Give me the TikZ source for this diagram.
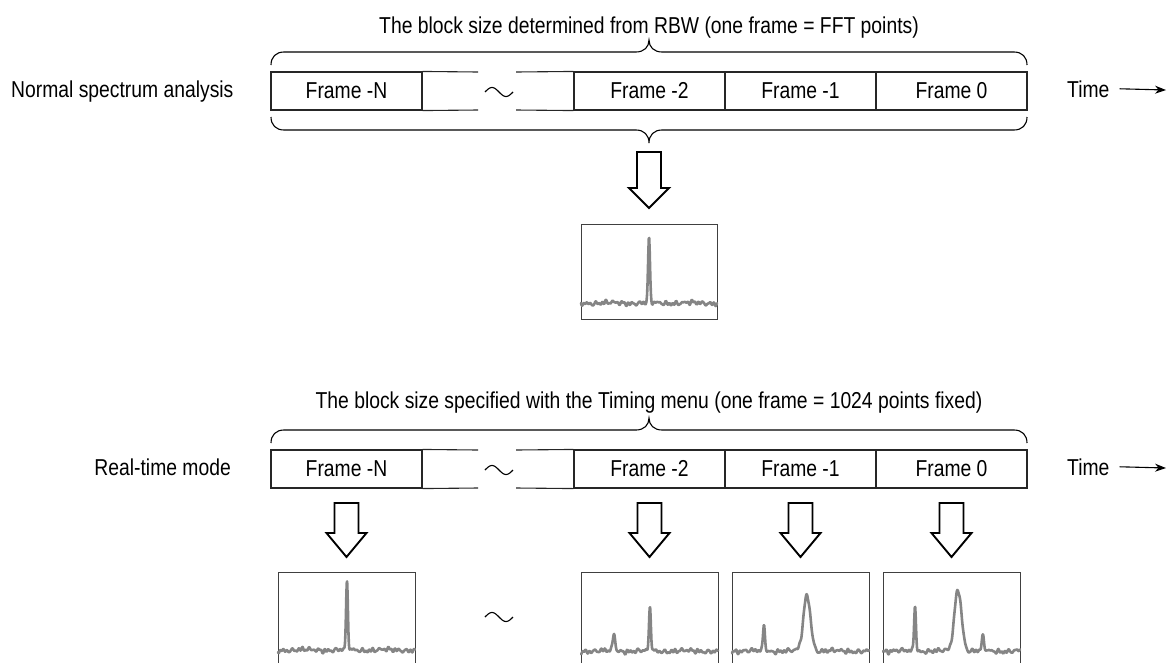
\documentclass[tikz,border=0pt]{standalone}
\usepackage{fontspec}
\setmainfont{Liberation Sans}[FakeStretch=0.84]
\usetikzlibrary{arrows.meta}
\newcommand\blkarrow[4]{%
  \draw[blockarrow] ({#1-12},#2) -- ({#1+12},#2) -- ({#1+12},#3) -- ({#1+20},#3)
    -- (#1,#4) -- ({#1-20},#3) -- ({#1-12},#3) -- cycle;}
\begin{document}
\begin{tikzpicture}[x=1pt,y=-1pt,
  declare function={
    nz(\t,\p)=0.8*sin(9*\t+\p)+1.0*sin(41*\t+2*\p)+0.8*sin(67*\t+\p)+0.7*sin(97*\t+3*\p)+0.6*sin(113*\t+2*\p);
    pk(\t,\c,\w)=exp(-pow(min(abs((\t-\c)/\w),4.5),2));
  },
  lbl/.style={font=\fontsize{23}{28}\selectfont, inner sep=0pt},
  framecell/.style={lbl, draw=black!85, line width=1.1pt, minimum width=151pt, minimum height=38pt},
  barline/.style={draw=black!85, line width=1.1pt},
  brace/.style={draw=black, line width=1.1pt},
  blockarrow/.style={draw=black, line width=1.9pt, fill=white, line join=miter},
  specbox/.style={draw=black!75, line width=1.1pt, inner sep=0pt, anchor=north west},
  spec/.style={draw=black!48, line width=2.6pt, line join=round, line cap=round},
  timearrow/.style={draw=black, line width=1.1pt, -{Stealth[length=11pt,width=8pt]}},
]
\useasboundingbox (0,0) rectangle (1167,662);

% ---------------- top: normal spectrum analysis ----------------
\node[lbl, anchor=base] (title1) at (649,33) {The block size determined from RBW (one frame = FFT points)};
\node[lbl, anchor=base west] (mode1) at (11,97) {Normal spectrum analysis};

\node[framecell] (aN) at (346.5,91) {Frame -N};
\node[framecell] (a2) at (649.5,91) {Frame -2};
\node[framecell] (a1) at (800.5,91) {Frame -1};
\node[framecell] (a0) at (951.5,91) {Frame 0};
\coordinate (agapTL) at (478,72);
\coordinate (agapTR) at (516,72);
\coordinate (agapBL) at (478,110);
\coordinate (agapBR) at (516,110);
\draw[barline] (aN.north east) -- (agapTL);
\draw[barline] (agapTR) -- (a2.north west);
\draw[barline] (aN.south east) -- (agapBL);
\draw[barline] (agapBR) -- (a2.south west);
\draw[brace] plot[domain=0:28, samples=40, variable=\t] ({485+\t},{92-4.5*sin(\t*360/28)});

\node[lbl, anchor=base west] (time1) at (1067,97) {Time};
\coordinate (t1end) at (1166,90);
\draw[timearrow] ([xshift=10pt]time1.east) -- (t1end);

% braces
\draw[brace] (271,65) .. controls (271,57) and (276,52) .. (284,52) -- (636,52)
  .. controls (644,52) and (649,47) .. (649,40) .. controls (649,47) and (654,52) .. (662,52)
  -- (1014,52) .. controls (1022,52) and (1027,57) .. (1027,65);
\draw[brace] (271,117) .. controls (271,125) and (276,130) .. (284,130) -- (636,130)
  .. controls (644,130) and (649,135) .. (649,143) .. controls (649,135) and (654,130) .. (662,130)
  -- (1014,130) .. controls (1022,130) and (1027,125) .. (1027,117);

\blkarrow{649}{152}{188}{208}

\node[specbox, minimum width=136pt, minimum height=95pt] (s0) at (581,224) {};
\begin{scope}[shift={(581,224)}]
  \draw[spec] plot[domain=0:136, samples=320, variable=\t] (\t,{79+nz(\t,0)-65*pk(\t,68,1.3)});
\end{scope}

% ---------------- bottom: real-time mode ----------------
\node[lbl, anchor=base] (title2) at (649,408) {The block size specified with the Timing menu (one frame = 1024 points fixed)};
\node[lbl, anchor=base east] (mode2) at (231,475) {Real-time mode};

\node[framecell] (bN) at (346.5,469) {Frame -N};
\node[framecell] (b2) at (649.5,469) {Frame -2};
\node[framecell] (b1) at (800.5,469) {Frame -1};
\node[framecell] (b0) at (951.5,469) {Frame 0};
\coordinate (bgapTL) at (478,450);
\coordinate (bgapTR) at (516,450);
\coordinate (bgapBL) at (478,488);
\coordinate (bgapBR) at (516,488);
\draw[barline] (bN.north east) -- (bgapTL);
\draw[barline] (bgapTR) -- (b2.north west);
\draw[barline] (bN.south east) -- (bgapBL);
\draw[barline] (bgapBR) -- (b2.south west);
\draw[brace] plot[domain=0:28, samples=40, variable=\t] ({485+\t},{470-4.5*sin(\t*360/28)});

\node[lbl, anchor=base west] (time2) at (1067,475) {Time};
\coordinate (t2end) at (1166,468);
\draw[timearrow] ([xshift=10pt]time2.east) -- (t2end);

\draw[brace] (271,443) .. controls (271,435) and (276,430) .. (284,430) -- (636,430)
  .. controls (644,430) and (649,425) .. (649,418) .. controls (649,425) and (654,430) .. (662,430)
  -- (1014,430) .. controls (1022,430) and (1027,435) .. (1027,443);

\blkarrow{346.5}{503}{533}{557}
\blkarrow{649.5}{503}{533}{557}
\blkarrow{800.5}{503}{533}{557}
\blkarrow{951.5}{503}{533}{557}

\node[specbox, minimum width=137pt, minimum height=95pt] (sN) at (278,572) {};
\node[specbox, minimum width=137pt, minimum height=95pt] (s2) at (581,572) {};
\node[specbox, minimum width=137pt, minimum height=95pt] (s1) at (732,572) {};
\node[specbox, minimum width=137pt, minimum height=95pt] (s00) at (883,572) {};

\begin{scope}[shift={(278,572)}]
  \draw[spec] plot[domain=0:137, samples=320, variable=\t] (\t,{78+nz(\t,20)-67*pk(\t,69,1.3)});
\end{scope}
\begin{scope}[shift={(581,572)}]
  \draw[spec] plot[domain=0:137, samples=320, variable=\t] (\t,{79+nz(\t,45)-18*pk(\t,33,1.6)-44*pk(\t,69,1.3)});
\end{scope}
\begin{scope}[shift={(732,572)}]
  \draw[spec] plot[domain=0:137, samples=320, variable=\t] (\t,{79+nz(\t,70)-28*pk(\t,32,1.3)-56*pk(\t,75,5)});
\end{scope}
\begin{scope}[shift={(883,572)}]
  \draw[spec] plot[domain=0:137, samples=320, variable=\t] (\t,{79+nz(\t,95)-47*pk(\t,32,1.3)-62*pk(\t,75,5)-14*pk(\t,100,1.6)});
\end{scope}

\draw[brace] plot[domain=0:28, samples=40, variable=\t] ({485+\t},{617-4.5*sin(\t*360/28)});
\end{tikzpicture}
\end{document}
